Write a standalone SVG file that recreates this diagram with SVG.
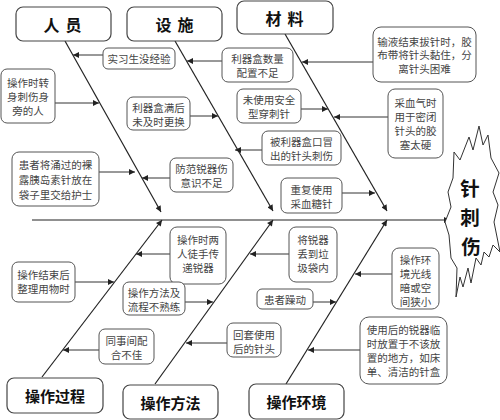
<svg xmlns="http://www.w3.org/2000/svg" width="500" height="420" viewBox="0 0 500 420">
<style>
.bx{fill:#fff;stroke:#555;stroke-width:1}
.tb{fill:#fff;stroke:#444;stroke-width:1.2}
.t{font-family:"Noto Sans CJK SC",sans-serif;font-size:10.5px;fill:#444;text-anchor:middle;dominant-baseline:central}
.h{font-family:"Noto Sans CJK SC",sans-serif;font-size:16px;font-weight:bold;fill:#111;text-anchor:middle;dominant-baseline:central}
.h2{font-family:"Noto Sans CJK SC",sans-serif;font-size:15px;font-weight:bold;fill:#111;text-anchor:middle;dominant-baseline:central}
.hd{font-family:"Noto Sans CJK SC",sans-serif;font-size:19.5px;font-weight:bold;fill:#111;text-anchor:middle;dominant-baseline:central}
.bone{stroke:#222;stroke-width:1.2;fill:none}
.ar{stroke:#333;stroke-width:1;fill:none}
</style>
<defs>
<marker id="a" viewBox="0 0 10 10" refX="10" refY="5" markerWidth="7" markerHeight="6" orient="auto" markerUnits="userSpaceOnUse"><path d="M0,0 L10,5 L0,10 z" fill="#222"/></marker>
</defs>
<rect width="500" height="420" fill="#fff"/>

<g id="connectors">
<line class="bone" x1="32" y1="220" x2="450" y2="220" marker-end="url(#a)"/>
<line class="bone" x1="65" y1="41" x2="161" y2="212" marker-end="url(#a)"/>
<line class="bone" x1="175" y1="41" x2="273" y2="211" marker-end="url(#a)"/>
<line class="bone" x1="285" y1="34" x2="387" y2="211" marker-end="url(#a)"/>
<line class="bone" x1="42" y1="377" x2="162" y2="220" marker-end="url(#a)"/>
<line class="bone" x1="155" y1="384" x2="273" y2="220" marker-end="url(#a)"/>
<line class="bone" x1="286" y1="384" x2="387" y2="220" marker-end="url(#a)"/>

<line class="ar" x1="103" y1="55" x2="73" y2="55" marker-end="url(#a)"/>
<line class="ar" x1="55" y1="103" x2="99" y2="103" marker-end="url(#a)"/>
<line class="ar" x1="170" y1="178" x2="142" y2="178" marker-end="url(#a)"/>
<line class="ar" x1="99" y1="172" x2="135" y2="172" marker-end="url(#a)"/>
<line class="ar" x1="222" y1="61" x2="187" y2="61" marker-end="url(#a)"/>
<line class="ar" x1="190" y1="116" x2="218" y2="116" marker-end="url(#a)"/>
<line class="ar" x1="262" y1="150" x2="235" y2="150" marker-end="url(#a)"/>
<line class="ar" x1="373" y1="62" x2="302" y2="62" marker-end="url(#a)"/>
<line class="ar" x1="301" y1="109" x2="328" y2="109" marker-end="url(#a)"/>
<line class="ar" x1="388" y1="117" x2="334" y2="117" marker-end="url(#a)"/>
<line class="ar" x1="342" y1="193" x2="375" y2="193" marker-end="url(#a)"/>

<line class="ar" x1="170" y1="254" x2="136" y2="254" marker-end="url(#a)"/>
<line class="ar" x1="75" y1="282" x2="114" y2="282" marker-end="url(#a)"/>
<line class="ar" x1="99" y1="350" x2="63" y2="350" marker-end="url(#a)"/>
<line class="ar" x1="185" y1="302" x2="213" y2="302" marker-end="url(#a)"/>
<line class="ar" x1="227" y1="343" x2="186" y2="343" marker-end="url(#a)"/>
<line class="ar" x1="289" y1="254" x2="250" y2="254" marker-end="url(#a)"/>
<line class="ar" x1="313" y1="302" x2="336" y2="302" marker-end="url(#a)"/>
<line class="ar" x1="392" y1="274" x2="355" y2="274" marker-end="url(#a)"/>
<line class="ar" x1="360" y1="350" x2="308" y2="350" marker-end="url(#a)"/>
</g>

<g id="head">
<polygon points="454,152 460,160 469,137 473,150 479,126 483,145 488,135 491,158 499,173 493,192 498,205 494,222 500,252 493,245 489,257 484,252 481,265 476,258 471,283 468,268 463,287 460,277 456,297 457,268 451,258 449,235 445,222 451,207 448,192 453,178" fill="#fff" stroke="#333" stroke-width="1"/>
<text class="hd" x="470" y="187">针</text>
<text class="hd" x="470" y="216">刺</text>
<text class="hd" x="471" y="245">伤</text>
</g>

<g id="cat-renyuan"><rect class="tb" x="16" y="7" width="95" height="34" rx="7"/><text class="h" x="65.5" y="24" letter-spacing="6">人员</text></g>
<g id="cat-sheshi"><rect class="tb" x="127" y="7" width="95" height="34" rx="7"/><text class="h" x="177.5" y="24" letter-spacing="6">设施</text></g>
<g id="cat-cailiao"><rect class="tb" x="237" y="1" width="96" height="33" rx="7"/><text class="h" x="287.5" y="17.5" letter-spacing="6">材料</text></g>
<g id="cat-guocheng"><rect class="tb" x="7" y="378" width="96" height="35" rx="7"/><text class="h2" x="55" y="395.5">操作过程</text></g>
<g id="cat-fangfa"><rect class="tb" x="123" y="385" width="95" height="34" rx="7"/><text class="h2" x="170.5" y="402">操作方法</text></g>
<g id="cat-huanjing"><rect class="tb" x="249" y="384" width="95" height="35" rx="7"/><text class="h2" x="296.5" y="401.5">操作环境</text></g>

<g id="n1"><rect class="bx" x="103" y="48" width="72" height="21" rx="5"/><text class="t" x="139" y="58.5">实习生没经验</text></g>
<g id="n2"><rect class="bx" x="1" y="69" width="54" height="54" rx="6"/><text class="t" x="28" y="82">操作时转</text><text class="t" x="28" y="96">身刺伤身</text><text class="t" x="28" y="110">旁的人</text></g>
<g id="n3"><rect class="bx" x="127" y="97" width="63" height="33" rx="6"/><text class="t" x="158.5" y="107">利器盒满后</text><text class="t" x="158.5" y="121">未及时更换</text></g>
<g id="n4"><rect class="bx" x="222" y="48" width="71" height="34" rx="6"/><text class="t" x="257.5" y="58.5">利器盒数量</text><text class="t" x="257.5" y="72.5">配置不足</text></g>
<g id="n5"><rect class="bx" x="373" y="27" width="103" height="55" rx="8"/><text class="t" x="424.5" y="41">输液结束拔针时，胶</text><text class="t" x="424.5" y="54.5">布带将针头黏住，分</text><text class="t" x="424.5" y="68">离针头困难</text></g>
<g id="n6"><rect class="bx" x="237" y="89" width="64" height="34" rx="6"/><text class="t" x="269" y="99.5">未使用安全</text><text class="t" x="269" y="113.5">型穿刺针</text></g>
<g id="n7"><rect class="bx" x="388" y="89" width="55" height="69" rx="7"/><text class="t" x="415.5" y="102.5">采血气时</text><text class="t" x="415.5" y="116.5">用于密闭</text><text class="t" x="415.5" y="130.5">针头的胶</text><text class="t" x="415.5" y="144.5">塞太硬</text></g>
<g id="n8"><rect class="bx" x="262" y="131" width="79" height="34" rx="6"/><text class="t" x="301.5" y="141.5">被利器盒口冒</text><text class="t" x="301.5" y="155.5">出的针头刺伤</text></g>
<g id="n9"><rect class="bx" x="170" y="158" width="63" height="34" rx="6"/><text class="t" x="201.5" y="168">防范锐器伤</text><text class="t" x="201.5" y="182">意识不足</text></g>
<g id="n10"><rect class="bx" x="12" y="152" width="87" height="54" rx="7"/><text class="t" x="55.5" y="164">患者将涌过的裸</text><text class="t" x="55.5" y="179">露胰岛素针放在</text><text class="t" x="55.5" y="194">袋子里交给护士</text></g>
<g id="n11"><rect class="bx" x="281" y="178" width="61" height="35" rx="6"/><text class="t" x="311.5" y="189">重复使用</text><text class="t" x="311.5" y="203">采血糖针</text></g>

<g id="n12"><rect class="bx" x="170" y="227" width="56" height="57" rx="7"/><text class="t" x="198" y="239">操作时两</text><text class="t" x="198" y="253">人徒手传</text><text class="t" x="198" y="267">递锐器</text></g>
<g id="n13"><rect class="bx" x="12" y="262" width="63" height="40" rx="6"/><text class="t" x="43.5" y="274">操作结束后</text><text class="t" x="43.5" y="288">整理用物时</text></g>
<g id="n14"><rect class="bx" x="123" y="282" width="62" height="33" rx="6"/><text class="t" x="154" y="292.5">操作方法及</text><text class="t" x="154" y="306.5">流程不熟练</text></g>
<g id="n15"><rect class="bx" x="99" y="329" width="55" height="35" rx="6"/><text class="t" x="126.5" y="340.5">同事间配</text><text class="t" x="126.5" y="354.5">合不佳</text></g>
<g id="n16"><rect class="bx" x="227" y="323" width="54" height="34" rx="6"/><text class="t" x="254" y="334">回套使用</text><text class="t" x="254" y="348">后的针头</text></g>
<g id="n17"><rect class="bx" x="289" y="227" width="48" height="55" rx="7"/><text class="t" x="313" y="239">将锐器</text><text class="t" x="313" y="253">丢到垃</text><text class="t" x="313" y="267">圾袋内</text></g>
<g id="n18"><rect class="bx" x="257" y="289" width="56" height="20" rx="5"/><text class="t" x="285" y="299">患者躁动</text></g>
<g id="n19"><rect class="bx" x="392" y="248" width="47" height="61" rx="7"/><text class="t" x="415.5" y="259">操作环</text><text class="t" x="415.5" y="273">境光线</text><text class="t" x="415.5" y="287">暗或空</text><text class="t" x="415.5" y="301">间狭小</text></g>
<g id="n20"><rect class="bx" x="360" y="317" width="87" height="67" rx="9"/><text class="t" x="403.5" y="329.5">使用后的锐器临</text><text class="t" x="403.5" y="343.5">时放置于不该放</text><text class="t" x="403.5" y="357.5">置的地方，如床</text><text class="t" x="403.5" y="371.5">单、清洁的针盒</text></g>
</svg>
